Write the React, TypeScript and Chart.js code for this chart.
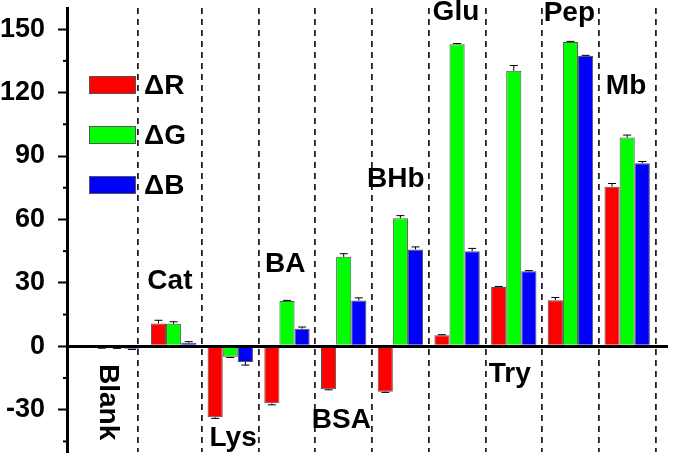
import { useEffect, useRef } from 'react';
import { Chart, registerables } from 'chart.js';

Chart.register(...registerables);

const categories = ['Blank', 'Cat', 'Lys', 'BA', 'BSA', 'BHb', 'Glu', 'Try', 'Pep', 'Mb'];
const seriesNames = ['ΔR', 'ΔG', 'ΔB'];
const seriesColors = ['#ff0000', '#00ff00', '#0000ff'];

const deltaR = [-0.6, 10.8, -33.6, -27.0, -20.3, -21.5, 5.2, 28.0, 21.8, 75.5];
const deltaG = [-0.7, 10.6, -5.0, 21.4, 42.3, 60.6, 142.9, 130.3, 143.9, 98.7];
const deltaB = [-1.2, 1.7, -7.4, 8.3, 21.7, 45.8, 45.0, 35.5, 137.3, 86.6];

const errR = [0.3, 1.5, 0.5, 0.7, 0.3, 0.3, 0.3, 0.3, 1.3, 1.5];
const errG = [0.3, 1.0, 0.3, 0.3, 1.5, 1.2, 0.3, 2.5, 0.3, 1.2];
const errB = [0.3, 0.5, 1.5, 0.8, 1.2, 1.2, 1.3, 0.3, 0.3, 0.8];

const yMajorTicks = [-30, 0, 30, 60, 90, 120, 150];
const yMinorTicks = [-45, -15, 15, 45, 75, 105, 135];
const separators = [0.37, 1.5, 2.5, 3.5, 4.5, 5.5, 6.5, 7.5, 8.5, 9.5];

// label anchor in data units (x = category index, y = value)
const labelX = [-0.16, 0.935, 2.05, 2.97, 3.96, 4.92, 5.98, 6.93, 7.98, 8.98];
const labelY = [-26.4, 30.8, -43.6, 39.0, -35.1, 79.0, 158.0, -13.4, 157.6, 123.2];

const seriesValues = [deltaR, deltaG, deltaB];
const seriesErrors = [errR, errG, errB];

const FONT = '"Liberation Sans", Arial, sans-serif';

export default function App() {
  const canvasRef = useRef<HTMLCanvasElement | null>(null);

  useEffect(() => {
    document.body.style.margin = '0';
    const canvas = canvasRef.current;
    if (!canvas) return;

    const overlay = {
      id: 'overlay',
      afterDatasetsDraw(chart: any) {
        const ctx = chart.ctx as CanvasRenderingContext2D;
        const xs = chart.scales.x;
        const ys = chart.scales.y;
        ctx.save();
        // error bars
        ctx.strokeStyle = '#000';
        ctx.lineWidth = 1;
        chart.data.datasets.forEach((ds: any, di: number) => {
          const meta = chart.getDatasetMeta(di);
          meta.data.forEach((bar: any, i: number) => {
            const v = seriesValues[di][i];
            const e = seriesErrors[di][i];
            const end = v + (v >= 0 ? e : -e);
            const y0 = ys.getPixelForValue(v);
            const y1 = ys.getPixelForValue(end);
            ctx.beginPath();
            ctx.moveTo(bar.x, y0);
            ctx.lineTo(bar.x, y1);
            ctx.moveTo(bar.x - 4, y1);
            ctx.lineTo(bar.x + 4, y1);
            ctx.stroke();
          });
        });
        // category labels
        ctx.fillStyle = '#000';
        ctx.font = `bold 28px ${FONT}`;
        ctx.textAlign = 'center';
        ctx.textBaseline = 'middle';
        categories.forEach((c, i) => {
          const px = xs.getPixelForValue(labelX[i]);
          const py = ys.getPixelForValue(labelY[i]);
          if (i === 0) {
            ctx.save();
            ctx.translate(px, py);
            ctx.rotate(Math.PI / 2);
            ctx.fillText(c, 0, 0);
            ctx.restore();
          } else {
            ctx.fillText(c, px, py);
          }
        });
        // minor ticks
        ctx.lineWidth = 2;
        const left = chart.chartArea.left;
        yMinorTicks.forEach((t) => {
          const py = ys.getPixelForValue(t);
          ctx.beginPath();
          ctx.moveTo(left - 4, py);
          ctx.lineTo(left, py);
          ctx.stroke();
        });
        // legend
        ctx.font = `bold 28px ${FONT}`;
        ctx.textAlign = 'left';
        chart.data.datasets.forEach((ds: any, di: number) => {
          const bx = 89;
          const by = 76 + di * 50;
          ctx.fillStyle = ds.backgroundColor;
          ctx.fillRect(bx, by, 47, 18);
          ctx.strokeStyle = '#555';
          ctx.lineWidth = 1;
          ctx.strokeRect(bx + 0.5, by + 0.5, 46, 17);
          ctx.fillStyle = '#000';
          ctx.fillText(ds.label, 144, by + 10);
        });
        ctx.restore();
      },
    };

    const chart = new Chart(canvas, {
      type: 'bar',
      data: {
        datasets: seriesNames.map((name, di) => ({
          label: name,
          data: categories.map((_, i) => ({ x: i, y: seriesValues[di][i] })),
          backgroundColor: seriesColors[di],
          borderColor: '#555',
          borderWidth: 1,
          categoryPercentage: 0.8,
          barPercentage: 1.0,
        })),
      },
      options: {
        animation: false,
        responsive: false,
        layout: { padding: { left: 0, top: 8, right: 7, bottom: 10 } },
        plugins: {
          legend: { display: false },
          tooltip: { enabled: false },
        },
        scales: {
          x: {
            type: 'linear',
            offset: false,
            min: -0.88,
            max: 9.72,
            afterBuildTicks: (s: any) => {
              s.ticks = separators.map((v) => ({ value: v }));
            },
            afterFit: (s: any) => {
              s.height = 0;
              s.paddingLeft = 0;
              s.paddingRight = 0;
              s.paddingTop = 0;
              s.paddingBottom = 0;
            },
            ticks: { display: false },
            grid: {
              color: '#222',
              lineWidth: 1.8,
              drawTicks: false,
              offset: false,
            },
            border: { display: false, dash: [6, 5] },
          },
          y: {
            min: -50,
            max: 160,
            afterBuildTicks: (s: any) => {
              s.ticks = yMajorTicks.map((v) => ({ value: v }));
            },
            afterFit: (s: any) => {
              s.width = 67;
              s.paddingTop = 0;
              s.paddingBottom = 0;
              s.paddingLeft = 0;
              s.paddingRight = 0;
            },
            ticks: {
              color: '#000',
              padding: 13,
              font: { family: FONT, size: 27, weight: 'bold' },
            },
            grid: {
              drawOnChartArea: true,
              color: (c: any) => (c.tick && c.tick.value === 0 ? '#000' : 'rgba(0,0,0,0)'),
              lineWidth: (c: any) => (c.tick && c.tick.value === 0 ? 3 : 1),
              tickColor: '#000',
              tickLength: 9,
              tickWidth: 2,
            },
            border: { display: true, color: '#000', width: 3 },
          },
        },
      },
      plugins: [overlay],
    });

    return () => chart.destroy();
  }, []);

  return (
    <div style={{ position: 'fixed', left: 0, top: 0, width: 675, height: 462, background: '#fff' }}>
      <canvas ref={canvasRef} width={675} height={462} />
    </div>
  );
}
